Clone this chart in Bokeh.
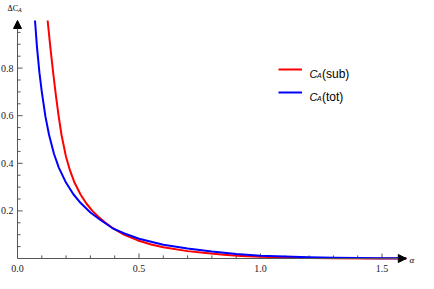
from bokeh.plotting import figure
from bokeh.models import (Range1d, LinearAxis, FixedTicker, PrintfTickFormatter,
                          Arrow, NormalHead, Label, Legend, LegendItem)
from bokeh.embed import file_html
from bokeh.resources import INLINE

# ---- data ----
alpha_tot = [0.072, 0.080, 0.090, 0.100, 0.115, 0.130, 0.150, 0.170, 0.200, 0.230,
             0.260, 0.300, 0.340, 0.390, 0.440, 0.500, 0.600, 0.700, 0.800, 0.900,
             1.000, 1.100, 1.200, 1.300, 1.400, 1.500, 1.600]
ca_tot = [1.000, 0.890, 0.783, 0.700, 0.596, 0.519, 0.440, 0.382, 0.318, 0.270,
          0.233, 0.193, 0.163, 0.128, 0.105, 0.083, 0.058, 0.042, 0.029, 0.019,
          0.012, 0.008, 0.005, 0.003, 0.0018, 0.001, 0.0006]

alpha_sub = [0.124, 0.136, 0.148, 0.158, 0.169, 0.181, 0.199, 0.216, 0.235, 0.260,
             0.285, 0.310, 0.336, 0.362, 0.390, 0.440, 0.493, 0.550, 0.600, 0.700,
             0.774, 0.850, 0.920, 1.000, 1.100, 1.200, 1.300, 1.450, 1.600]
ca_sub = [1.000, 0.880, 0.770, 0.685, 0.600, 0.520, 0.430, 0.370, 0.318, 0.268,
          0.229, 0.198, 0.172, 0.150, 0.129, 0.099, 0.077, 0.059, 0.047, 0.031,
          0.023, 0.016, 0.011, 0.007, 0.004, 0.002, 0.001, 0.0003, 0.0]

x_major = [0.0, 0.5, 1.0, 1.5]
x_minor = [0.1, 0.2, 0.3, 0.4, 0.6, 0.7, 0.8, 0.9, 1.1, 1.2, 1.3, 1.4]
y_major = [0.2, 0.4, 0.6, 0.8]
y_minor = [0.05, 0.1, 0.15, 0.25, 0.3, 0.35, 0.45, 0.5, 0.55, 0.65, 0.7, 0.75,
           0.85, 0.9, 0.95]

W, H = 418, 273
p = figure(width=W, height=H, output_backend="svg", toolbar_location=None,
           x_axis_location=None, y_axis_location=None,
           x_range=Range1d(-0.06996, 1.6502), y_range=Range1d(-0.063, 1.084),
           min_border=0, min_border_left=0, min_border_right=0,
           min_border_top=0, min_border_bottom=0)
p.outline_line_color = None
p.background_fill_color = "white"
p.grid.visible = False

AX = "#555555"

def style_axis(ax, standoff):
    ax.axis_line_color = None
    ax.major_tick_line_color = None
    ax.minor_tick_line_color = None
    ax.major_tick_in = 0
    ax.major_tick_out = 0
    ax.minor_tick_in = 0
    ax.minor_tick_out = 0
    ax.major_label_text_font = "Liberation Serif"
    ax.major_label_text_font_size = "10px"
    ax.major_label_text_color = "#222222"
    ax.major_label_standoff = standoff
    ax.formatter = PrintfTickFormatter(format="%.1f")

xaxis = LinearAxis(fixed_location=0, ticker=FixedTicker(ticks=x_major))
style_axis(xaxis, 6)
p.add_layout(xaxis, "below")

yaxis = LinearAxis(fixed_location=0, ticker=FixedTicker(ticks=y_major))
style_axis(yaxis, 4)
p.add_layout(yaxis, "left")

# tick marks pointing into the plot (lengths in data units: ~5 px / ~3 px)
tx_major = [v for v in x_major if v > 0]
p.segment(x0=tx_major, y0=[0] * len(tx_major), x1=tx_major, y1=[0.021] * len(tx_major),
          line_color=AX, line_width=1)
p.segment(x0=x_minor, y0=[0] * len(x_minor), x1=x_minor, y1=[0.013] * len(x_minor),
          line_color=AX, line_width=1)
p.segment(x0=[0] * len(y_major), y0=y_major, x1=[0.021] * len(y_major), y1=y_major,
          line_color=AX, line_width=1)
p.segment(x0=[0] * len(y_minor), y0=y_minor, x1=[0.0125] * len(y_minor), y1=y_minor,
          line_color=AX, line_width=1)

# axis lines with arrow heads
p.add_layout(Arrow(x_start=0, y_start=0, x_end=1.6, y_end=0, line_color=AX, line_width=1,
                   end=NormalHead(size=8, fill_color="black", line_color="black")))
p.add_layout(Arrow(x_start=0, y_start=0, x_end=0, y_end=1.0, line_color=AX, line_width=1,
                   end=NormalHead(size=8, fill_color="black", line_color="black")))

r_sub = p.line(alpha_sub, ca_sub, line_color="#ff0000", line_width=2, line_join="round")
r_tot = p.line(alpha_tot, ca_tot, line_color="#0000ff", line_width=2, line_join="round")

legend = Legend(items=[LegendItem(label=" ", renderers=[r_sub]),
                       LegendItem(label=" ", renderers=[r_tot])],
                location=(278, 171), glyph_width=24, glyph_height=20,
                label_height=20, label_width=0, label_standoff=0, spacing=3,
                padding=0, margin=0, border_line_color=None,
                background_fill_alpha=0, label_text_font_size="1px")
p.add_layout(legend, "center")

SANS = "Liberation Sans"
SERIF = "Liberation Serif"

def lab(x, y, t, font, size, style="normal", align="left"):
    p.add_layout(Label(x=x, y=y, x_units="screen", y_units="screen", text=t,
                       text_font=font, text_font_size=size, text_font_style=style,
                       text_color="black", text_align=align, text_baseline="alphabetic"))

for row, name in enumerate(["(sub)", "(tot)"]):
    yb = 200 - 23 * row
    lab(309, yb, "C", SANS, "11px", "italic")
    lab(316.5, yb - 1.5, "A", SANS, "7px", "italic")
    lab(321.5, yb, name, SANS, "12px")

# axis titles
lab(7, 265, "\u0394C", SERIF, "8px")
lab(17.5, 263.5, "A", SERIF, "6px", "italic")
lab(409, 13.5, "\u03b1", SERIF, "9px", "italic")

open("out.html", "w").write(file_html(p, INLINE))
